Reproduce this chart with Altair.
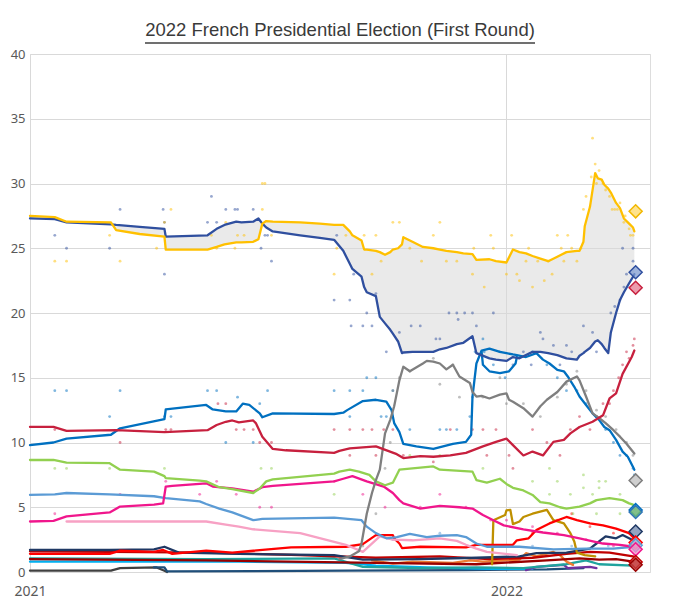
import altair as alt
import pandas as pd

# ---------------- polling averages ----------------
# Macron and Le Pen share one date grid (needed for the shaded gap between them)
main_dates = [
    "2021-01-01", "2021-01-20", "2021-01-29", "2021-03-04", "2021-03-08", "2021-03-26", "2021-04-14", "2021-04-15",
    "2021-05-17", "2021-05-24", "2021-05-30", "2021-06-08", "2021-06-12", "2021-06-21", "2021-06-25", "2021-06-28",
    "2021-07-01", "2021-07-06", "2021-07-27", "2021-08-11", "2021-08-22", "2021-08-29", "2021-09-03", "2021-09-05",
    "2021-09-12", "2021-09-14", "2021-09-16", "2021-09-23", "2021-09-26", "2021-09-30", "2021-10-04", "2021-10-06",
    "2021-10-10", "2021-10-13", "2021-10-14", "2021-10-21", "2021-10-29", "2021-11-06", "2021-11-11", "2021-11-16",
    "2021-11-24", "2021-11-29", "2021-12-06", "2021-12-09", "2021-12-19", "2021-12-24", "2022-01-01", "2022-01-06",
    "2022-01-11", "2022-01-16", "2022-01-21", "2022-01-27", "2022-02-02", "2022-02-09", "2022-02-16", "2022-02-24",
    "2022-02-26", "2022-03-01", "2022-03-02", "2022-03-06", "2022-03-10", "2022-03-12", "2022-03-15", "2022-03-17",
    "2022-03-20", "2022-03-22", "2022-03-26", "2022-03-29", "2022-04-01", "2022-04-05", "2022-04-08", "2022-04-09"]
macron_avg = [
    27.5, 27.4, 27.05, 27.0, 26.4, 26.1, 25.9, 24.9,
    24.9, 25.1, 25.3, 25.45, 25.45, 25.5, 25.7, 26.9,
    27.1, 27.05, 27.0, 26.9, 26.8, 26.8, 26.3, 26.0,
    25.6, 24.9, 24.9, 24.8, 24.7, 24.5, 24.7, 24.9,
    25.0, 25.3, 25.85, 25.5, 25.1, 25.0, 24.9, 24.8,
    24.7, 24.6, 24.55, 24.1, 24.15, 24.0, 23.9, 24.9,
    24.7, 24.6, 24.4, 24.2, 24.0, 24.35, 24.7, 24.8,
    24.8, 25.5, 26.7, 28.2, 30.8, 30.4, 30.3, 29.9,
    29.6, 29.3, 28.5, 28.1, 27.3, 26.9, 26.6, 26.3]
lepen_avg = [
    27.3, 27.25, 27.0, 26.85, 26.8, 26.65, 26.5, 25.9,
    26.0, 26.5, 26.8, 27.05, 27.0, 27.05, 27.3, 26.9,
    26.6, 26.3, 26.0, 25.8, 25.65, 24.8, 23.8, 23.4,
    22.8, 22.0, 21.6, 21.3, 19.7, 19.2, 18.7, 18.4,
    17.8, 16.9, 16.95, 17.0, 17.0, 17.0, 17.2, 17.3,
    17.6, 17.7, 18.2, 16.9, 16.5, 16.4, 16.3, 16.6,
    16.5, 16.75, 17.0, 17.0, 16.9, 16.75, 16.5, 16.4,
    16.7, 16.9, 17.0, 17.3, 17.8, 17.9, 17.6, 17.3,
    16.9, 18.5, 20.0, 21.0, 21.6, 22.3, 22.8, 23.0]

melenchon_avg = [
    ("2021-01-01", 11.2), ("2021-01-19", 11.2), ("2021-01-29", 10.9), ("2021-03-08", 10.95), ("2021-04-14", 10.8),
    ("2021-05-17", 10.95), ("2021-05-24", 11.35), ("2021-05-31", 11.6), ("2021-06-05", 11.7), ("2021-06-10", 11.55),
    ("2021-06-21", 11.7), ("2021-06-23", 11.5), ("2021-06-28", 10.45), ("2021-07-06", 9.5), ("2021-07-16", 9.4),
    ("2021-08-22", 9.2), ("2021-08-26", 9.35), ("2021-09-03", 9.55), ("2021-09-23", 9.7), ("2021-10-09", 9.1),
    ("2021-10-14", 8.8), ("2021-10-27", 8.95), ("2021-11-06", 8.9), ("2021-11-19", 9.0), ("2021-12-01", 9.2),
    ("2021-12-14", 9.7), ("2021-12-24", 10.05), ("2022-01-01", 10.3), ("2022-01-06", 9.8), ("2022-01-14", 9.0),
    ("2022-01-21", 9.3), ("2022-01-29", 9.0), ("2022-02-06", 10.05), ("2022-02-14", 10.2), ("2022-02-19", 10.7),
    ("2022-02-26", 11.2), ("2022-03-08", 11.6), ("2022-03-16", 12.1), ("2022-03-21", 13.4), ("2022-03-26", 13.8),
    ("2022-03-31", 15.3), ("2022-04-07", 16.6), ("2022-04-09", 17.1)]
zemmour_avg = [
    ("2021-08-26", 1.0), ("2021-09-03", 1.2), ("2021-09-10", 1.6), ("2021-09-12", 2.2), ("2021-09-16", 4.5),
    ("2021-09-20", 6.1), ("2021-09-23", 7.1), ("2021-09-26", 7.9), ("2021-09-30", 10.7), ("2021-10-04", 11.75),
    ("2021-10-07", 12.8), ("2021-10-11", 14.8), ("2021-10-14", 15.85), ("2021-10-19", 15.5), ("2021-10-29", 16.1),
    ("2021-11-01", 16.3), ("2021-11-06", 16.25), ("2021-11-11", 16.1), ("2021-11-16", 15.65), ("2021-11-21", 16.0),
    ("2021-11-26", 15.1), ("2021-12-04", 14.6), ("2021-12-06", 13.9), ("2021-12-09", 13.55), ("2021-12-13", 13.6),
    ("2021-12-19", 13.4), ("2021-12-27", 13.7), ("2022-01-01", 13.8), ("2022-01-03", 13.3), ("2022-01-06", 13.15),
    ("2022-01-14", 12.65), ("2022-01-21", 12.0), ("2022-01-27", 12.8), ("2022-02-01", 13.3), ("2022-02-09", 13.9),
    ("2022-02-16", 14.7), ("2022-02-24", 15.1), ("2022-02-26", 14.8), ("2022-03-03", 13.55), ("2022-03-08", 12.25),
    ("2022-03-13", 11.9), ("2022-03-18", 11.5), ("2022-03-24", 10.95), ("2022-03-29", 10.45), ("2022-04-03", 9.9),
    ("2022-04-07", 9.4), ("2022-04-09", 9.15)]
pecresse_avg = [
    ("2021-01-01", 9.8), ("2021-01-19", 10.0), ("2021-01-29", 10.3), ("2021-03-04", 10.6), ("2021-03-11", 11.1),
    ("2021-04-14", 11.8), ("2021-04-15", 12.55), ("2021-05-16", 12.9), ("2021-05-21", 12.55), ("2021-05-31", 12.4),
    ("2021-06-08", 12.4), ("2021-06-13", 13.0), ("2021-06-18", 12.9), ("2021-06-26", 12.25), ("2021-06-28", 11.95),
    ("2021-07-06", 12.25), ("2021-08-22", 12.2), ("2021-08-29", 12.3), ("2021-09-01", 12.5), ("2021-09-13", 13.2),
    ("2021-09-23", 13.3), ("2021-10-01", 13.15), ("2021-10-05", 12.5), ("2021-10-07", 11.5), ("2021-10-11", 10.8),
    ("2021-10-14", 9.9), ("2021-10-24", 9.7), ("2021-11-06", 9.5), ("2021-11-21", 9.9), ("2021-12-01", 10.05),
    ("2021-12-05", 10.6), ("2021-12-06", 13.55), ("2021-12-09", 16.1), ("2021-12-13", 17.1), ("2021-12-19", 17.25),
    ("2021-12-27", 17.0), ("2022-01-01", 16.9), ("2022-01-06", 16.8), ("2022-01-09", 16.75), ("2022-01-16", 16.6),
    ("2022-01-24", 16.9), ("2022-01-29", 16.4), ("2022-02-03", 16.1), ("2022-02-09", 15.6), ("2022-02-14", 15.5),
    ("2022-02-17", 15.1), ("2022-02-22", 14.3), ("2022-02-26", 13.55), ("2022-03-03", 12.9), ("2022-03-08", 12.25),
    ("2022-03-13", 11.75), ("2022-03-17", 11.2), ("2022-03-21", 10.95), ("2022-03-26", 10.2), ("2022-03-31", 9.3),
    ("2022-04-04", 8.9), ("2022-04-08", 8.1), ("2022-04-09", 7.9)]
lr_alt_avg = [
    ("2021-12-13", 17.0), ("2021-12-14", 16.0), ("2021-12-19", 15.5), ("2021-12-27", 15.35), ("2022-01-03", 15.5),
    ("2022-01-08", 16.1), ("2022-01-09", 16.6)]
jadot_avg = [
    ("2021-01-01", 8.65), ("2021-01-19", 8.65), ("2021-01-29", 8.45), ("2021-03-03", 8.4), ("2021-03-11", 7.9),
    ("2021-04-06", 7.75), ("2021-04-14", 7.4), ("2021-04-15", 7.25), ("2021-05-11", 7.05), ("2021-05-16", 7.0),
    ("2021-05-26", 6.55), ("2021-06-05", 6.4), ("2021-06-10", 6.3), ("2021-06-21", 6.1), ("2021-06-26", 6.45),
    ("2021-07-01", 7.0), ("2021-07-06", 7.15), ("2021-08-22", 7.6), ("2021-08-26", 7.75), ("2021-09-03", 7.9),
    ("2021-09-10", 7.75), ("2021-09-18", 7.5), ("2021-09-23", 7.0), ("2021-09-30", 6.7), ("2021-10-06", 6.9),
    ("2021-10-11", 7.9), ("2021-11-06", 8.15), ("2021-11-11", 7.9), ("2021-12-06", 7.75), ("2021-12-09", 7.1),
    ("2021-12-17", 6.9), ("2021-12-27", 7.2), ("2022-01-01", 6.8), ("2022-01-06", 6.5), ("2022-01-14", 6.3),
    ("2022-01-21", 5.95), ("2022-01-27", 5.4), ("2022-02-03", 5.3), ("2022-02-11", 5.0), ("2022-02-16", 4.9),
    ("2022-02-26", 5.05), ("2022-03-06", 5.3), ("2022-03-11", 5.55), ("2022-03-21", 5.7), ("2022-03-31", 5.55),
    ("2022-04-05", 5.3), ("2022-04-08", 5.2), ("2022-04-09", 4.9)]
hidalgo_avg = [
    ("2021-01-01", 3.9), ("2021-01-19", 3.95), ("2021-01-29", 4.3), ("2021-03-03", 4.6), ("2021-03-11", 5.05),
    ("2021-04-06", 5.2), ("2021-04-13", 5.3), ("2021-04-15", 6.6), ("2021-04-20", 6.65), ("2021-05-16", 6.85),
    ("2021-05-21", 6.6), ("2021-06-05", 6.45), ("2021-06-21", 6.2), ("2021-06-28", 6.55), ("2021-07-06", 6.65),
    ("2021-08-22", 7.0), ("2021-08-29", 7.2), ("2021-09-05", 7.4), ("2021-09-16", 7.0), ("2021-09-29", 6.6),
    ("2021-10-06", 6.1), ("2021-10-11", 5.55), ("2021-10-14", 5.3), ("2021-10-27", 4.9), ("2021-11-11", 5.1),
    ("2021-11-26", 5.0), ("2021-12-06", 4.9), ("2021-12-14", 4.4), ("2021-12-22", 4.0), ("2021-12-30", 3.6),
    ("2022-01-14", 3.3), ("2022-01-29", 3.05), ("2022-02-14", 2.85), ("2022-02-26", 2.6), ("2022-03-16", 2.2),
    ("2022-03-29", 2.1), ("2022-04-08", 1.95)]
dupont_avg = [
    ("2021-01-01", 5.95), ("2021-01-20", 6.0), ("2021-01-29", 6.1), ("2021-03-03", 6.0), ("2021-04-06", 5.85),
    ("2021-04-15", 5.7), ("2021-05-11", 5.45), ("2021-05-16", 5.25), ("2021-05-26", 4.9), ("2021-06-05", 4.6),
    ("2021-06-21", 4.0), ("2021-06-28", 4.1), ("2021-08-22", 4.2), ("2021-09-12", 4.0), ("2021-09-16", 3.5),
    ("2021-09-23", 3.0), ("2021-10-01", 2.6), ("2021-10-09", 2.7), ("2021-10-19", 2.95), ("2021-11-01", 2.7),
    ("2021-11-11", 2.8), ("2021-11-24", 2.85), ("2021-12-01", 2.7), ("2021-12-09", 2.2), ("2021-12-17", 1.95),
    ("2022-01-11", 1.95), ("2022-02-06", 1.75), ("2022-03-03", 1.8), ("2022-03-24", 1.8), ("2022-04-08", 1.95)]
montebourg_avg = [
    ("2021-01-29", 3.9), ("2021-05-16", 3.9), ("2021-05-31", 3.65), ("2021-06-10", 3.5), ("2021-06-21", 3.3),
    ("2021-07-27", 3.0), ("2021-08-31", 2.1), ("2021-09-13", 1.55), ("2021-09-26", 2.75), ("2021-10-06", 2.5),
    ("2021-10-21", 2.45), ("2021-11-11", 2.6), ("2021-11-24", 2.4), ("2021-12-01", 2.1), ("2021-12-09", 1.8),
    ("2021-12-17", 1.55), ("2022-01-09", 1.3)]
roussel_avg = [
    ("2021-01-01", 1.4), ("2021-03-03", 1.4), ("2021-03-11", 1.65), ("2021-04-06", 1.55), ("2021-04-13", 1.7),
    ("2021-04-20", 1.4), ("2021-05-16", 1.65), ("2021-06-05", 1.5), ("2021-07-20", 1.9), ("2021-08-31", 1.95),
    ("2021-09-13", 2.15), ("2021-09-18", 2.5), ("2021-09-23", 2.85), ("2021-10-06", 2.85), ("2021-10-07", 2.6),
    ("2021-10-11", 2.2), ("2021-10-13", 1.85), ("2021-10-27", 1.95), ("2021-12-01", 1.9), ("2021-12-09", 2.1),
    ("2022-01-06", 2.1), ("2022-01-09", 2.45), ("2022-01-18", 2.6), ("2022-01-24", 3.25), ("2022-02-03", 3.75),
    ("2022-02-16", 4.25), ("2022-02-24", 4.0), ("2022-03-06", 3.75), ("2022-03-16", 3.6), ("2022-03-26", 3.35),
    ("2022-04-05", 3.0), ("2022-04-09", 2.6)]
poutou_avg = [
    ("2021-01-01", 1.6), ("2021-03-03", 1.55), ("2021-05-16", 1.5), ("2021-07-27", 1.3), ("2021-09-23", 1.1),
    ("2021-11-11", 1.2), ("2021-12-19", 1.0), ("2022-01-21", 1.1), ("2022-02-16", 1.4), ("2022-03-06", 1.55),
    ("2022-03-21", 1.5), ("2022-04-08", 1.2)]
arthaud_avg = [
    ("2021-01-01", 1.0), ("2021-05-16", 0.9), ("2021-09-23", 0.7), ("2021-12-09", 0.6), ("2022-02-01", 0.9),
    ("2022-02-26", 1.05), ("2022-03-13", 0.95), ("2022-03-26", 1.0), ("2022-04-08", 0.8)]
lassalle_avg = [
    ("2021-01-01", 1.7), ("2021-03-03", 1.7), ("2021-04-06", 1.75), ("2021-04-14", 1.95), ("2021-04-25", 1.5),
    ("2021-06-10", 1.4), ("2021-08-22", 1.3), ("2021-09-13", 0.95), ("2021-10-27", 1.0), ("2021-12-09", 1.1),
    ("2022-01-11", 1.2), ("2022-01-24", 1.45), ("2022-02-16", 1.5), ("2022-03-06", 1.8), ("2022-03-11", 2.2),
    ("2022-03-18", 2.75), ("2022-03-26", 2.6), ("2022-03-31", 2.85), ("2022-04-08", 2.45)]
taubira_avg = [
    ("2021-12-21", 0.6), ("2021-12-22", 4.0), ("2021-12-31", 4.4), ("2022-01-01", 4.75), ("2022-01-04", 4.8),
    ("2022-01-06", 3.7), ("2022-01-11", 3.9), ("2022-01-14", 4.25), ("2022-01-21", 4.5), ("2022-02-01", 4.8),
    ("2022-02-06", 4.0), ("2022-02-14", 3.75), ("2022-02-19", 3.0), ("2022-02-22", 2.35), ("2022-02-24", 1.5),
    ("2022-03-02", 1.3), ("2022-03-10", 1.2)]
philippot_avg = [
    ("2021-09-20", 0.9), ("2021-10-06", 0.65), ("2021-10-21", 0.8), ("2021-11-21", 0.7), ("2021-12-04", 0.9),
    ("2021-12-14", 0.8), ("2022-01-11", 0.95), ("2022-01-16", 1.45), ("2022-01-24", 1.2), ("2022-02-06", 1.55),
    ("2022-02-11", 1.3), ("2022-02-16", 0.8), ("2022-02-21", 0.55)]
asselineau_avg = [
    ("2021-01-01", 1.05), ("2021-05-16", 1.0), ("2021-08-22", 1.05), ("2021-09-13", 0.4), ("2021-10-27", 0.3),
    ("2021-12-09", 0.35), ("2022-01-14", 0.3), ("2022-01-24", 0.4), ("2022-02-16", 0.6), ("2022-03-03", 0.9),
    ("2022-03-13", 0.6), ("2022-04-08", 0.5)]
cyan_avg = [
    ("2021-01-01", 0.8), ("2021-06-10", 0.8), ("2021-08-31", 0.7), ("2021-09-23", 0.5), ("2021-11-01", 0.35),
    ("2021-12-19", 0.25), ("2022-01-21", 0.25)]
purple_avg = [
    ("2022-01-16", 0.15), ("2022-01-24", 0.4), ("2022-02-14", 0.55), ("2022-02-17", 0.3), ("2022-03-06", 0.4),
    ("2022-03-11", 0.3)]
darkgray_avg = [
    ("2021-01-01", 0.1), ("2021-03-04", 0.1), ("2021-03-11", 0.3), ("2021-04-08", 0.35), ("2021-04-14", 0.1),
    ("2021-04-16", 0.0)]
navy2_avg = [
    ("2021-04-06", 0.35), ("2021-04-14", 0.35), ("2021-04-16", 0.05), ("2021-09-01", 0.1), ("2021-12-01", 0.15),
    ("2022-02-01", 0.2), ("2022-03-01", 0.3)]

# ---------------- individual polls (dots) ----------------
macron_polls = [
    ("2021-01-20", 24), ("2021-01-29", 24), ("2021-03-03", 26), ("2021-03-11", 24), ("2021-04-08", 25),
    ("2021-04-14", 27), ("2021-04-19", 28), ("2021-05-20", 26), ("2021-05-24", 25), ("2021-05-31", 27),
    ("2021-06-07", 25), ("2021-06-09", 26), ("2021-06-14", 26), ("2021-06-28", 30), ("2021-06-30", 30),
    ("2021-06-28", 28), ("2021-07-05", 26), ("2021-08-22", 23), ("2021-08-24", 25), ("2021-08-31", 26),
    ("2021-09-14", 26), ("2021-09-20", 23), ("2021-09-23", 26), ("2021-09-27", 24), ("2021-10-06", 27),
    ("2021-10-11", 27), ("2021-10-19", 25), ("2021-10-28", 24), ("2021-11-06", 26), ("2021-11-11", 27),
    ("2021-11-16", 24), ("2021-11-24", 24), ("2021-12-06", 23), ("2021-12-07", 25), ("2021-12-15", 22),
    ("2021-12-20", 26), ("2021-12-22", 25), ("2022-01-01", 23), ("2022-01-05", 26), ("2022-01-09", 23),
    ("2022-01-11", 22.5), ("2022-01-16", 24), ("2022-01-18", 25), ("2022-01-21", 22), ("2022-01-25", 24),
    ("2022-01-30", 22.5), ("2022-02-02", 24), ("2022-02-05", 23), ("2022-02-09", 26), ("2022-02-12", 25),
    ("2022-02-14", 24), ("2022-02-17", 26), ("2022-02-20", 25), ("2022-02-24", 24), ("2022-02-27", 25),
    ("2022-03-01", 28), ("2022-03-03", 29), ("2022-03-07", 30.5), ("2022-03-08", 33.5), ("2022-03-10", 31.5),
    ("2022-03-11", 30), ("2022-03-13", 31), ("2022-03-16", 30), ("2022-03-18", 29.5), ("2022-03-21", 29),
    ("2022-03-23", 28), ("2022-03-25", 28), ("2022-03-27", 28), ("2022-03-29", 28.5), ("2022-04-01", 27),
    ("2022-04-02", 27.5), ("2022-04-05", 26.5), ("2022-04-06", 26), ("2022-04-08", 26)]
lepen_polls = [
    ("2021-01-20", 26), ("2021-01-29", 25), ("2021-03-03", 25), ("2021-03-11", 28), ("2021-04-13", 28),
    ("2021-04-14", 27), ("2021-04-14", 23), ("2021-05-17", 27), ("2021-05-20", 29), ("2021-05-24", 27),
    ("2021-05-31", 28), ("2021-06-07", 28), ("2021-06-09", 28), ("2021-06-21", 28), ("2021-06-27", 25),
    ("2021-06-30", 26), ("2021-07-02", 26), ("2021-07-05", 24), ("2021-08-24", 26), ("2021-09-06", 23),
    ("2021-08-22", 21), ("2021-09-03", 21), ("2021-09-23", 21.5), ("2021-09-16", 20), ("2021-09-04", 19),
    ("2021-09-13", 19), ("2021-09-20", 19), ("2021-10-01", 17), ("2021-10-11", 18.5), ("2021-10-20", 19),
    ("2021-10-27", 19), ("2021-11-08", 18), ("2021-11-11", 18), ("2021-11-18", 20), ("2021-11-24", 20),
    ("2021-11-25", 19.5), ("2021-11-30", 20), ("2021-12-06", 20), ("2021-12-09", 19), ("2021-12-22", 20),
    ("2022-01-06", 16), ("2022-01-14", 17), ("2022-01-20", 16), ("2022-01-27", 18.5), ("2022-01-29", 18),
    ("2022-02-06", 17.5), ("2022-02-11", 16), ("2022-02-16", 17.5), ("2022-02-20", 17), ("2022-03-01", 19),
    ("2022-03-08", 18.5), ("2022-03-11", 17), ("2022-03-22", 20), ("2022-03-25", 20.5), ("2022-03-29", 21),
    ("2022-03-31", 25), ("2022-04-01", 22), ("2022-04-03", 23), ("2022-04-08", 24), ("2022-04-08", 25)]
melenchon_polls = [
    ("2021-01-20", 11), ("2021-03-11", 10), ("2021-04-15", 11), ("2021-04-19", 11), ("2021-05-25", 13),
    ("2021-05-31", 13), ("2021-06-08", 11), ("2021-06-14", 11), ("2021-06-21", 11), ("2021-06-26", 10),
    ("2021-07-05", 10), ("2021-08-22", 11), ("2021-09-03", 11), ("2021-09-13", 11), ("2021-09-20", 11),
    ("2021-09-29", 11), ("2021-10-06", 11), ("2021-09-03", 9), ("2021-09-23", 9), ("2021-10-14", 9),
    ("2021-11-06", 8.5), ("2021-11-19", 11), ("2021-12-06", 11), ("2021-12-14", 11), ("2021-12-17", 9),
    ("2021-12-24", 11), ("2022-01-03", 9), ("2022-01-06", 8), ("2022-01-21", 11), ("2022-02-01", 10),
    ("2022-02-11", 9), ("2022-02-19", 11), ("2022-02-26", 12), ("2022-03-06", 11), ("2022-03-11", 12),
    ("2022-03-16", 13), ("2022-03-21", 13), ("2022-03-24", 14), ("2022-03-28", 15), ("2022-03-31", 16),
    ("2022-04-03", 17), ("2022-04-05", 16.5), ("2022-04-08", 17.5), ("2022-04-09", 18)]
zemmour_polls = [
    ("2021-09-13", 2), ("2021-09-23", 4.5), ("2021-09-30", 8), ("2021-10-04", 10), ("2021-10-06", 14),
    ("2021-10-11", 15), ("2021-10-19", 15.5), ("2021-11-06", 16.5), ("2021-11-11", 14.5), ("2021-11-21", 16),
    ("2021-11-26", 13.5), ("2021-12-06", 13.5), ("2021-12-14", 13.5), ("2021-12-27", 15), ("2022-01-01", 13),
    ("2022-01-14", 13), ("2022-01-27", 12), ("2022-02-09", 13.5), ("2022-02-16", 14.5), ("2022-02-24", 15.5),
    ("2022-03-03", 14), ("2022-03-11", 12.5), ("2022-03-18", 12), ("2022-03-26", 11), ("2022-04-03", 10),
    ("2022-04-08", 9)]
pecresse_polls = [
    ("2021-01-20", 14), ("2021-01-29", 14), ("2021-03-03", 12), ("2021-03-11", 14), ("2021-04-14", 12),
    ("2021-04-19", 12), ("2021-05-17", 14), ("2021-05-24", 14), ("2021-05-31", 10), ("2021-06-09", 13.5),
    ("2021-06-21", 10), ("2021-06-26", 13), ("2021-07-02", 14), ("2021-08-22", 14), ("2021-09-03", 14),
    ("2021-09-13", 14), ("2021-09-16", 15), ("2021-09-23", 15), ("2021-09-27", 12), ("2021-09-03", 12),
    ("2021-10-01", 12), ("2021-10-06", 14), ("2021-10-19", 11), ("2021-11-11", 11), ("2021-11-16", 11),
    ("2021-11-24", 11), ("2021-12-04", 12), ("2021-12-08", 17), ("2021-12-14", 18), ("2021-12-15", 17),
    ("2021-12-22", 16), ("2021-12-27", 17), ("2021-12-31", 15), ("2022-01-21", 17), ("2022-02-01", 16),
    ("2022-02-09", 15), ("2022-02-16", 14), ("2022-02-24", 14), ("2022-03-03", 13), ("2022-03-11", 12),
    ("2022-03-18", 11), ("2022-03-24", 10), ("2022-03-29", 9), ("2022-04-03", 9), ("2022-04-08", 8),
    ("2022-04-09", 7.5)]
jadot_polls = [
    ("2021-01-20", 8), ("2021-01-29", 8), ("2021-03-03", 8), ("2021-04-14", 8), ("2021-06-27", 8),
    ("2021-07-05", 8), ("2021-08-22", 6), ("2021-10-19", 9), ("2021-11-11", 9), ("2021-12-14", 8),
    ("2022-01-21", 7), ("2022-02-03", 8), ("2022-02-09", 7), ("2022-03-01", 7.5), ("2022-03-13", 7),
    ("2022-03-18", 7), ("2022-02-03", 6), ("2022-02-19", 6), ("2022-03-08", 6), ("2022-03-29", 6),
    ("2022-03-01", 6.5), ("2022-03-13", 6.5), ("2022-02-21", 4.5), ("2022-03-11", 4.5), ("2022-03-29", 4.5)]
hidalgo_polls = [
    ("2021-01-20", 4.5), ("2021-03-11", 6), ("2021-04-15", 7), ("2021-05-11", 6), ("2021-05-24", 7),
    ("2021-06-08", 6), ("2021-06-26", 5), ("2021-07-05", 5), ("2021-08-22", 7), ("2021-09-13", 6),
    ("2021-09-30", 5), ("2021-10-27", 5), ("2021-11-11", 6), ("2021-12-01", 5), ("2021-12-20", 4),
    ("2022-01-01", 4), ("2022-01-21", 3.5), ("2022-02-09", 3), ("2022-03-03", 2.5), ("2022-03-24", 2),
    ("2022-04-05", 2)]
roussel_polls = [
    ("2022-01-21", 3), ("2022-02-09", 4), ("2022-02-20", 4.5), ("2022-03-06", 3.5), ("2022-03-24", 3),
    ("2022-04-05", 3)]
dupont_polls = [
    ("2021-10-06", 2.5), ("2021-11-11", 3), ("2021-12-20", 2), ("2022-01-21", 2), ("2022-02-20", 2),
    ("2022-03-20", 2)]

# ---------------- first-round results (diamonds, 10 April 2022) ----------------
result_date = "2022-04-10"
result_names = ["Macron", "Le Pen", "Mélenchon", "Zemmour", "Pécresse", "Jadot",
                "Lassalle", "Roussel", "Dupont-Aignan", "Hidalgo", "Poutou", "Arthaud"]
result_values = [27.85, 23.15, 21.95, 7.07, 4.78, 4.63, 3.13, 2.28, 2.06, 1.75, 0.77, 0.56]
result_fill = ["#FFD966", "#7F9BD0", "#E57A90", "#BFBFBF", "#6FA8DC", "#7CC06A",
               "#6F86AC", "#FF7B7B", "#9DC3E6", "#F98CC6", "#E06060", "#C04040"]
result_stroke = ["#F2B800", "#2F4F9F", "#C7203E", "#7F7F7F", "#0070C0", "#2E75B6",
                 "#1F3864", "#FF0000", "#5B9BD5", "#F0168C", "#C00000", "#990000"]

TITLE = "2022 French Presidential Election (First Round)"

# ---------------- colours ----------------
C_MACRON, C_LEPEN, C_MEL, C_ZEM = "#FFC000", "#2F4F9F", "#C7203E", "#7F7F7F"
C_PEC, C_JADOT, C_HID, C_NDA = "#0070C0", "#92D050", "#F0168C", "#5B9BD5"


def frame(pairs, name, color):
    return pd.DataFrame({
        "date": pd.to_datetime([d for d, _ in pairs]),
        "value": [v for _, v in pairs],
        "cand": name,
        "col": color,
    })


main_df = pd.DataFrame({"date": pd.to_datetime(main_dates), "macron": macron_avg, "lepen": lepen_avg})

minor_lines = pd.concat([
    frame(darkgray_avg, "Other A", "#404040"),
    frame(navy2_avg, "Other B", "#1F4E79"),
    frame(cyan_avg, "Other C", "#00B0F0"),
    frame(purple_avg, "Other D", "#7030A0"),
    frame(asselineau_avg, "Asselineau", "#20A39E"),
    frame(philippot_avg, "Philippot", "#ED7D31"),
    frame(arthaud_avg, "Arthaud", "#990000"),
    frame(poutou_avg, "Poutou", "#C00000"),
    frame(lassalle_avg, "Lassalle", "#1F3864"),
    frame(taubira_avg, "Taubira", "#BF9000"),
    frame(roussel_avg, "Roussel", "#FF0000"),
    frame(montebourg_avg, "Montebourg", "#F7A1C4"),
    frame(dupont_avg, "Dupont-Aignan", C_NDA),
    frame(hidalgo_avg, "Hidalgo", C_HID),
    frame(jadot_avg, "Jadot", C_JADOT),
], ignore_index=True)

major_lines = pd.concat([
    frame(lr_alt_avg, "LR (alt)", C_PEC),
    frame(pecresse_avg, "Pécresse", C_PEC),
    frame(zemmour_avg, "Zemmour", C_ZEM),
    frame(melenchon_avg, "Mélenchon", C_MEL),
    frame(list(zip(main_dates, lepen_avg)), "Le Pen", C_LEPEN),
    frame(list(zip(main_dates, macron_avg)), "Macron", C_MACRON),
], ignore_index=True)

polls = pd.concat([
    frame(dupont_polls, "Dupont-Aignan", C_NDA),
    frame(roussel_polls, "Roussel", "#FF0000"),
    frame(hidalgo_polls, "Hidalgo", C_HID),
    frame(jadot_polls, "Jadot", C_JADOT),
    frame(pecresse_polls, "Pécresse", C_PEC),
    frame(zemmour_polls, "Zemmour", C_ZEM),
    frame(melenchon_polls, "Mélenchon", C_MEL),
    frame(lepen_polls, "Le Pen", C_LEPEN),
    frame(macron_polls, "Macron", C_MACRON),
], ignore_index=True)

results = pd.DataFrame({
    "date": pd.to_datetime([result_date] * len(result_names)),
    "value": result_values,
    "cand": result_names,
    "fillc": result_fill,
    "strokec": result_stroke,
})

# ---------------- encodings ----------------
LABEL_FONT = "Noto Sans"
x_enc = alt.X(
    "date:T", title=None,
    scale=alt.Scale(domain=[alt.DateTime(year=2021, month=1, date=1), alt.DateTime(year=2022, month=4, date=21)]),
    axis=alt.Axis(values=[alt.DateTime(year=2021, month=1, date=1), alt.DateTime(year=2022, month=1, date=1)],
                  format="%Y", grid=True, gridColor="#D9D9D9", gridWidth=1, domain=False, ticks=False,
                  labelFlush=False, labelPadding=12, labelFontSize=14, labelColor="#595959", labelFont=LABEL_FONT),
)


def y_enc(field):
    return alt.Y(
        f"{field}:Q", title=None,
        scale=alt.Scale(domain=[0, 40], nice=False),
        axis=alt.Axis(values=list(range(0, 41, 5)), grid=True, gridColor="#D9D9D9", gridWidth=1, domain=False,
                      ticks=False, labelPadding=5, labelFontSize=13, labelColor="#595959", labelFont=LABEL_FONT),
    )


gap = alt.Chart(main_df).mark_area(color="#D8D8D8", opacity=0.55).encode(
    x=x_enc, y=y_enc("lepen"), y2="macron:Q")

dots = alt.Chart(polls).mark_circle(size=8, opacity=0.5).encode(
    x=x_enc, y=y_enc("value"), color=alt.Color("col:N", scale=None))

line_kw = dict(strokeWidth=2.3, strokeJoin="round", strokeCap="round")
minor = alt.Chart(minor_lines).mark_line(**line_kw).encode(
    x=x_enc, y=y_enc("value"), color=alt.Color("col:N", scale=None), detail="cand:N")
major = alt.Chart(major_lines).mark_line(**line_kw).encode(
    x=x_enc, y=y_enc("value"), color=alt.Color("col:N", scale=None), detail="cand:N")

diamonds = alt.Chart(results).mark_point(shape="diamond", filled=True, size=170, fillOpacity=0.75,
                                         strokeWidth=1.5, strokeOpacity=1).encode(
    x=x_enc, y=y_enc("value"),
    fill=alt.Fill("fillc:N", scale=None), stroke=alt.Stroke("strokec:N", scale=None))

title_df = pd.DataFrame({"t": [TITLE]})
title_text = alt.Chart(title_df).mark_text(font="Liberation Sans", fontSize=18.5, color="#3A3A3A",
                                           align="center", baseline="alphabetic").encode(
    text="t:N", x=alt.value(310), y=alt.value(-18))
underline = alt.Chart(title_df).mark_rule(color="#404040", strokeWidth=1.4).encode(
    x=alt.value(115), x2=alt.value(505), y=alt.value(-11))

chart = alt.layer(gap, dots, minor, major, diamonds, title_text, underline).properties(
    width=620, height=518,
    padding={"left": 22, "top": 46, "right": 10, "bottom": 28},
    autosize=alt.AutoSizeParams(type="none"),
).configure_view(stroke=None).configure(background="white")

chart.save("out.html", embed_options={"renderer": "svg", "actions": False})
